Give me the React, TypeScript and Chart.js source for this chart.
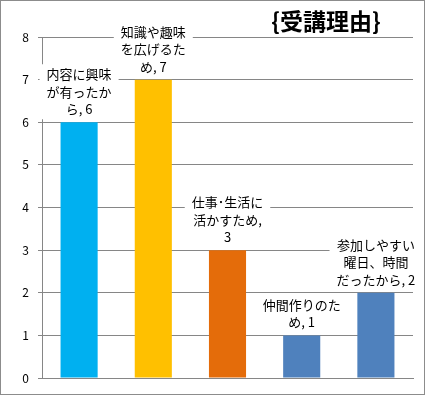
import { useEffect, useRef } from 'react';
import { Chart, registerables } from 'chart.js';
Chart.register(...registerables);

const categories = [
  '内容に興味が有ったから',
  '知識や趣味を広げるため',
  '仕事･生活に活かすため',
  '仲間作りのため',
  '参加しやすい曜日、時間だったから',
];
const values = [6, 7, 3, 1, 2];
const labelLines = [
  ['内容に興味', 'が有ったか', 'ら, 6'],
  ['知識や趣味', 'を広げるた', 'め, 7'],
  ['仕事･生活に', '活かすため,', '3'],
  ['仲間作りのた', 'め, 1'],
  ['参加しやすい', '曜日、時間', 'だったから, 2'],
];
const barColors = ['#00B0F0', '#FFC000', '#E46C0A', '#4F81BD', '#4F81BD'];
const yMin = 0;
const yMax = 8;
const yStep = 1;
const titleText = '{受講理由}';

const FONT = '"Noto Sans CJK JP", "Noto Sans", sans-serif';

export default function App() {
  const ref = useRef<HTMLCanvasElement | null>(null);
  useEffect(() => {
    document.body.style.margin = '0';
    const labelPlugin = {
      id: 'barLabels',
      afterDatasetsDraw(chart: any) {
        const ctx = chart.ctx;
        const meta = chart.getDatasetMeta(0);
        ctx.save();
        ctx.font = `13px ${FONT}`;
        ctx.textAlign = 'center';
        ctx.textBaseline = 'middle';
        meta.data.forEach((el: any, i: number) => {
          const lines = labelLines[i];
          const lh = 17.5;
          const lastY = el.y - 13;
          const firstY = lastY - lh * (lines.length - 1);
          let w = 0;
          lines.forEach((l) => (w = Math.max(w, ctx.measureText(l).width)));
          ctx.fillStyle = '#ffffff';
          ctx.fillRect(el.x - w / 2 - 7, firstY - 10, w + 14, lastY - firstY + 20);
          ctx.fillStyle = '#000000';
          lines.forEach((l, k) => ctx.fillText(l, el.x, firstY + k * lh));
        });
        ctx.restore();
      },
      afterDraw(chart: any) {
        const ctx = chart.ctx;
        ctx.save();
        ctx.font = `bold 23px ${FONT}`;
        ctx.fillStyle = '#000000';
        ctx.textAlign = 'center';
        ctx.textBaseline = 'middle';
        ctx.fillText(titleText, chart.chartArea.right - 87, 21);
        ctx.strokeStyle = '#8c8c8c';
        ctx.lineWidth = 1;
        ctx.strokeRect(0.5, 0.5, chart.width - 1, chart.height - 1);
        ctx.restore();
      },
    };
    const chart = new Chart(ref.current as HTMLCanvasElement, {
      type: 'bar',
      data: {
        labels: categories,
        datasets: [
          {
            data: values,
            backgroundColor: barColors,
            borderWidth: 0,
            categoryPercentage: 1,
            barPercentage: 0.5,
          },
        ],
      },
      options: {
        animation: false,
        responsive: false,
        events: [],
        layout: { padding: { left: 0, top: 37, right: 12, bottom: 17 } },
        plugins: { legend: { display: false }, tooltip: { enabled: false }, title: { display: false } },
        scales: {
          x: {
            ticks: { display: false },
            grid: { display: false },
            border: { display: true, color: '#868686' },
            afterFit: (s: any) => {
              s.height = 0;
            },
          },
          y: {
            min: yMin,
            max: yMax,
            ticks: { stepSize: yStep, color: '#000', font: { size: 12, family: FONT }, padding: 9 },
            grid: { color: '#868686', tickLength: 4, drawTicks: true },
            border: { display: true, color: '#868686' },
            afterFit: (s: any) => {
              s.width = 42;
            },
          },
        },
      },
      plugins: [labelPlugin],
    });
    return () => chart.destroy();
  }, []);
  return <canvas ref={ref} width={425} height={395} style={{ display: 'block' }} />;
}
